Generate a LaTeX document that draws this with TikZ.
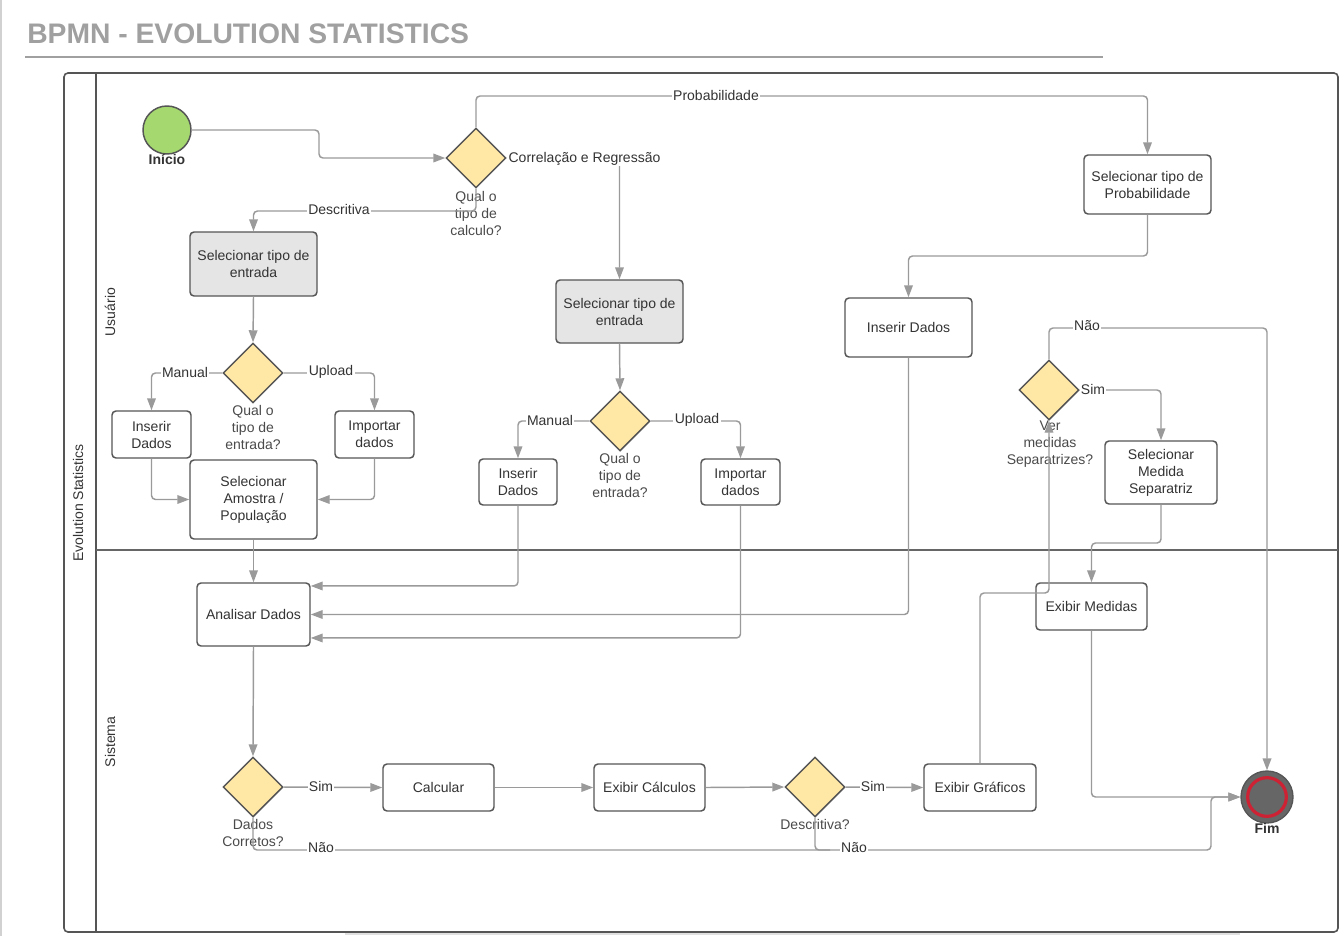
\documentclass[tikz,border=0pt]{standalone}
\usepackage{fontspec}
\setmainfont{Liberation Sans}
\usetikzlibrary{arrows.meta,shapes.geometric,calc}
\definecolor{cline}{HTML}{9A9A9A}
\definecolor{cborder}{HTML}{555555}
\definecolor{cgate}{HTML}{FFE8A5}
\definecolor{cstart}{HTML}{A5D86F}
\definecolor{cgreyfill}{HTML}{E5E5E5}
\definecolor{ctext}{HTML}{333333}
\definecolor{cgtext}{HTML}{4A4A4A}
\definecolor{cred}{HTML}{CC2233}
\definecolor{cfim}{HTML}{666666}
\definecolor{ctitle}{HTML}{A0A0A0}
\begin{document}
\begin{tikzpicture}[x=0.75pt,y=-0.75pt,
  font=\fontsize{10.5}{12.75}\selectfont,
  task/.style={draw=cborder, line width=1.1pt, rounded corners=3pt, fill=white, align=center, text=ctext, inner sep=2pt},
  gtask/.style={task, fill=cgreyfill},
  gate/.style={diamond, draw=cborder, line width=1.1pt, fill=cgate, minimum width=45pt, minimum height=45pt, inner sep=0pt, shape aspect=1},
  glbl/.style={align=center, text=cgtext, inner sep=1pt},
  elbl/.style={fill=white, inner sep=1pt, text=ctext},
  flow/.style={draw=cline, line width=1.1pt, rounded corners=3pt, -{Triangle[length=9pt,width=6.5pt]}},
  plain/.style={draw=cline, line width=1.1pt, rounded corners=3pt},
  lane/.style={rotate=90, text=ctext}
]
\useasboundingbox (0,0) rectangle (1342,936);
% faint page edges
\draw[draw=black!18, line width=1pt] (1,0) -- (1,936);
\draw[draw=black!12, line width=2pt] (345,934) -- (1240,934);
% title
\node[anchor=base west, inner sep=0pt, font=\fontsize{21.2}{24}\selectfont\bfseries, text=ctitle] (title) at (27,43) {BPMN - EVOLUTION STATISTICS};
\draw[draw=ctitle, line width=1.1pt] (25,57) -- (1103,57);
% pool
\draw[draw=cborder, line width=1.2pt, rounded corners=3pt] (64,73) rectangle (1338,932);
\draw[draw=cborder, line width=1.2pt] (96,73) -- (96,932);
\draw[draw=black!60, line width=1.5pt] (96,550) -- (1338,550);
\node[lane] (pool) at (78,503) {Evolution Statistics};
\node[lane] (laneU) at (110,312) {Usuário};
\node[lane] (laneS) at (110,742) {Sistema};

% start / end
\node[circle, draw=cborder, line width=1.1pt, fill=cstart, minimum size=36pt, inner sep=0pt] (S) at (167,130) {};
\node[font=\fontsize{10.5}{12.75}\selectfont\bfseries, text=ctext, inner sep=1pt] (Slbl) at (167,159) {Início};
\node[circle, draw=cborder, line width=1pt, fill=cfim, minimum size=39pt, inner sep=0pt] (F) at (1267,797) {};
\node[circle, draw=cred, line width=2.4pt, minimum size=29pt, inner sep=0pt] (Fring) at (1267,797) {};
\node[font=\fontsize{10.5}{12.75}\selectfont\bfseries, text=ctext, inner sep=1pt] (Flbl) at (1267,828) {Fim};

% gateways
\node[gate] (G1) at (476,158) {};
\node[glbl] (G1l) at (476,213) {Qual o\\tipo de\\calculo?};
\node[gate] (G2) at (253,373) {};
\node[glbl] (G2l) at (253,427) {Qual o\\tipo de\\entrada?};
\node[gate] (G3) at (620,421) {};
\node[glbl] (G3l) at (620,475) {Qual o\\tipo de\\entrada?};
\node[gate] (G4) at (253,787) {};
\node[glbl] (G4l) at (253,832.5) {Dados\\Corretos?};
\node[gate] (G5) at (815,787) {};
\node[glbl] (G5l) at (815,824) {Descritiva?};
\node[gate] (G6) at (1049,390) {};
\node[glbl] (G6l) at (1050,444) {Ver\\medidas\\Separatrizes?};

% tasks
\node[gtask, minimum width=95.25pt, minimum height=48pt] (SE1) at (253.5,264) {Selecionar tipo de\\entrada};
\node[task, minimum width=59.25pt, minimum height=35.25pt] (ID1) at (151.5,434.5) {Inserir\\Dados};
\node[task, minimum width=59.25pt, minimum height=35.25pt] (IMP1) at (374.5,434.5) {Importar\\dados};
\node[task, minimum width=95.25pt, minimum height=59.25pt] (SAP) at (253.5,499.5) {Selecionar\\Amostra /\\População};
\node[gtask, minimum width=95.25pt, minimum height=47.25pt] (SE2) at (619.5,311.5) {Selecionar tipo de\\entrada};
\node[task, minimum width=58.5pt, minimum height=34.5pt] (ID2) at (518,482) {Inserir\\Dados};
\node[task, minimum width=59.25pt, minimum height=34.5pt] (IMP2) at (740.5,482) {Importar\\dados};
\node[task, minimum width=95.25pt, minimum height=44.25pt] (SP) at (1147.5,184.5) {Selecionar tipo de\\Probabilidade};
\node[task, minimum width=95.25pt, minimum height=44.25pt] (ID3) at (908.5,327.5) {Inserir Dados};
\node[task, minimum width=84.75pt, minimum height=47.25pt] (AD) at (253.5,614.5) {Analisar Dados};
\node[task, minimum width=83.25pt, minimum height=35.25pt] (CALC) at (438.5,787.5) {Calcular};
\node[task, minimum width=83.25pt, minimum height=35.25pt] (EC) at (649.5,787.5) {Exibir Cálculos};
\node[task, minimum width=84pt, minimum height=35.25pt] (EG) at (980,787.5) {Exibir Gráficos};
\node[task, minimum width=84pt, minimum height=47.25pt] (SMS) at (1161,472.5) {Selecionar\\Medida\\Separatriz};
\node[task, minimum width=83.25pt, minimum height=35.25pt] (EXM) at (1091.5,606.5) {Exibir Medidas};

% connectors
\draw[flow] (S.east) -- (319,130) |- (G1.west);
\draw[flow] (G1.north) -- (476,96) -| (SP.north);
\draw[flow] (G1.east) -| (SE2.north);
\draw[flow] (G1.south) -- (476,211) -| (SE1.north);
\draw[flow] (SE1.south) -- (G2.north);
\draw[flow] (G2.west) -| (ID1.north);
\draw[flow] (G2.east) -| (IMP1.north);
\draw[flow] (ID1.south) |- (SAP.west);
\draw[flow] (IMP1.south) |- (SAP.east);
\draw[flow] (SAP.south) -- (AD.north);
\draw[flow] (SE2.south) -- (G3.north);
\draw[flow] (G3.west) -| (ID2.north);
\draw[flow] (G3.east) -| (IMP2.north);
\draw[flow] (ID2.south) |- ([yshift=21.4pt]AD.east);
\draw[flow] (IMP2.south) |- ([yshift=-17.6pt]AD.east);
\draw[flow] (SP.south) -- (1147.5,256) -| (ID3.north);
\draw[flow] (ID3.south) |- (AD.east);
\draw[flow] (AD.south) -- (G4.north);
\draw[flow] (G4.east) -- (CALC.west);
\draw[flow] (CALC.east) -- (EC.west);
\draw[flow] (EC.east) -- (G5.west);
\draw[flow] (G5.east) -- (EG.west);
\draw[flow] (G4.south) -- (253,850) -- (1211,850) |- (F.west);
\draw[plain] (G5.south) -- (815,850) -- (830,850);
\draw[flow] (EG.north) -- (980,593) -| (G6.south);
\draw[flow] (G6.north) -- (1049,328) -| (F.north);
\draw[flow] (G6.east) -| (SMS.north);
\draw[flow] (SMS.south) -- (1161,543) -| (EXM.north);
\draw[flow] (EXM.south) |- (F.west);

% edge labels
\node[elbl] (lProb) at (716,95) {Probabilidade};
\node[elbl] (lCorr) at (584.5,158.5) {Correlação e Regressão};
\node[elbl] (lDesc) at (339,209) {Descritiva};
\node[elbl] (lMan1) at (185,372) {Manual};
\node[elbl] (lUp1) at (331,372) {Upload};
\node[elbl] (lMan2) at (550,420) {Manual};
\node[elbl] (lUp2) at (697,420) {Upload};
\node[elbl] (lSim1) at (321,786) {Sim};
\node[elbl] (lNao1) at (321,848) {Não};
\node[elbl] (lSim2) at (873,786) {Sim};
\node[elbl] (lNao2) at (854,848) {Não};
\node[elbl] (lNao3) at (1087,326) {Não};
\node[elbl] (lSim3) at (1093,389) {Sim};
\end{tikzpicture}
\end{document}
